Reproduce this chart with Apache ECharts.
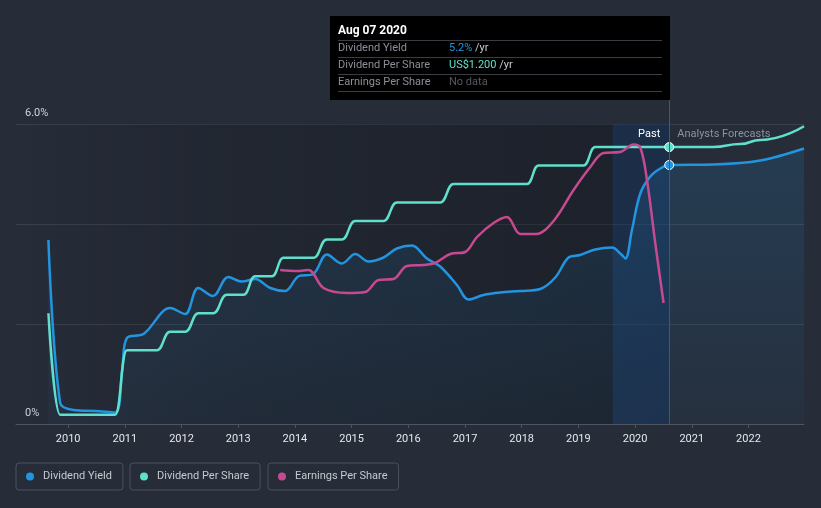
<!DOCTYPE html>
<html><head><meta charset="utf-8">
<script src="https://cdn.jsdelivr.net/npm/echarts@6/dist/echarts.min.js"></script>
<style>html,body{margin:0;padding:0;background:#262c38;}#c{width:821px;height:508px;}</style>
</head><body><div id="c"></div>
<script>
// ---- data (x = decimal year) ----
const yearTicks = [2010,2011,2012,2013,2014,2015,2016,2017,2018,2019,2020,2021,2022];
const xMin = 2009.08, xMax = 2022.98;
const nowT = 2020.603;

const yieldT = [2009.652,2009.859,2010.094,2010.476,2010.829,2010.953,2011.036,2011.329,2011.800,2012.064,2012.294,2012.553,2012.823,2013.065,2013.299,2013.564,2013.828,2014.058,2014.323,2014.564,2014.829,2015.064,2015.298,2015.563,2015.799,2016.064,2016.328,2016.563,2016.858,2017.062,2017.327,2017.622,2017.975,2018.327,2018.592,2018.827,2019.033,2019.298,2019.592,2019.750,2019.830,2019.945,2020.092,2020.268,2020.445,2020.603,2021.380,2022.209,2022.98];
const yieldV = [3.68,0.42,0.28,0.26,0.23,1.08,1.72,1.80,2.32,2.20,2.72,2.56,2.94,2.85,2.90,2.72,2.66,2.95,3.00,3.39,3.21,3.40,3.25,3.33,3.51,3.57,3.31,3.15,2.78,2.49,2.58,2.63,2.66,2.70,2.93,3.33,3.38,3.49,3.53,3.40,3.31,3.88,4.61,4.95,5.11,5.18,5.19,5.27,5.51];

const dpsT = [2009.652,2009.859,2010.829,2011.036,2011.565,2011.800,2012.064,2012.299,2012.558,2012.800,2013.093,2013.299,2013.594,2013.799,2014.328,2014.564,2014.829,2015.064,2015.563,2015.799,2016.563,2016.798,2018.093,2018.298,2019.091,2019.298,2020.603,2021.380,2021.856,2022.209,2022.98];
const dpsV = [0.48,0.04,0.04,0.32,0.32,0.40,0.40,0.48,0.48,0.56,0.56,0.64,0.64,0.72,0.72,0.80,0.80,0.88,0.88,0.96,0.96,1.04,1.04,1.12,1.12,1.20,1.20,1.20,1.213,1.231,1.29];

const epsT = [2013.740,2014.035,2014.240,2014.504,2014.917,2015.240,2015.475,2015.739,2015.976,2016.269,2016.475,2016.740,2017.004,2017.211,2017.504,2017.740,2017.975,2018.257,2018.562,2018.915,2019.210,2019.444,2019.739,2019.973,2020.092,2020.210,2020.356,2020.503];
const epsV = [1.54,1.53,1.54,1.36,1.31,1.32,1.44,1.45,1.58,1.59,1.61,1.70,1.72,1.87,2.01,2.07,1.90,1.90,2.03,2.34,2.57,2.71,2.72,2.795,2.765,2.44,1.81,1.21];

const seriesNames = ['Dividend Yield','Dividend Per Share','Earnings Per Share'];
const colors = ['#2394e0','#5fe0cc','#c74a90'];

// ---- chart ----
const FONT = 'Roboto, "Open Sans", sans-serif';
const chart = echarts.init(document.getElementById('c'), null, {renderer:'canvas'});
function pairs(t, v){ return t.map((x,i)=>[x, v[i]]); }
function withDot(arr, color){
  return arr.map(p => p[0] === nowT ? {value:p, symbol:'circle', symbolSize:9,
    itemStyle:{color:color, borderColor:'#ffffff', borderWidth:1}} : p);
}
const legendBase = {orient:'horizontal', icon:'circle', itemWidth:8, itemHeight:8,
  padding:[8,11,8,10], borderColor:'#4a5160', borderWidth:1, borderRadius:3,
  selectedMode:false, textStyle:{color:'#c5c9d0', fontSize:11, fontFamily:FONT, padding:[0,0,0,4]}};

const option = {
  backgroundColor:'#262c38',
  animation:false,
  textStyle:{fontFamily:FONT},
  grid:{left:16, right:17, top:124, bottom:84, containLabel:false},
  legend:[
    Object.assign({}, legendBase, {data:[seriesNames[0]], left:16, top:463}),
    Object.assign({}, legendBase, {data:[seriesNames[1]], left:130, top:463}),
    Object.assign({}, legendBase, {data:[seriesNames[2]], left:268, top:463})
  ],
  xAxis:{type:'value', min:xMin, max:xMax, splitLine:{show:false},
    axisLine:{lineStyle:{color:'#4d5360', width:1}},
    axisTick:{customValues:yearTicks, length:4, lineStyle:{color:'#4d5360'}},
    axisLabel:{customValues:yearTicks, formatter:v=>String(Math.round(v)), color:'#e6e8eb', fontSize:11, margin:10, fontFamily:FONT}
  },
  yAxis:[
    {type:'value', min:0, max:6, interval:2,
      axisLine:{show:false}, axisTick:{show:false},
      splitLine:{lineStyle:{color:'#3a404c', width:1}},
      axisLabel:{inside:true, margin:9, verticalAlign:'bottom', padding:[0,0,5,0], color:'#d0d3d8', fontSize:11, fontFamily:FONT,
        formatter:v => v===6 ? '6.0%' : (v===0 ? '0%' : '')}},
    {type:'value', min:0, max:1.3, show:false, splitLine:{show:false}},
    {type:'value', min:0, max:3, show:false, splitLine:{show:false}}
  ],
  series:[
    {name:'regions', type:'line', data:[], z:1, silent:true,
      markArea:{silent:true, data:[
        [{xAxis:xMin, itemStyle:{color:new echarts.graphic.LinearGradient(0,0,1,0,[
            {offset:0,color:'rgba(8,10,14,0)'},{offset:0.3,color:'rgba(8,10,14,0.15)'},{offset:1,color:'rgba(8,10,14,0.34)'}])}}, {xAxis:nowT}],
        [{xAxis:nowT-1, itemStyle:{color:'rgba(30,110,220,0.17)'},
          label:{show:true, position:'insideTopRight', formatter:'Past', color:'#ffffff', fontSize:11, fontFamily:FONT, distance:5, padding:[0,4,0,0]}}, {xAxis:nowT}],
        [{xAxis:nowT, itemStyle:{color:'rgba(0,0,0,0)'},
          label:{show:true, position:'insideTopLeft', formatter:'Analysts Forecasts', color:'#8c93a0', fontSize:11, fontFamily:FONT, distance:5, padding:[0,0,0,3]}}, {xAxis:xMax}]
      ]},
      markLine:{silent:true, symbol:'none', label:{show:false},
        lineStyle:{color:'#2b5d94', width:1, type:'solid'}, data:[{xAxis:nowT}]}
    },
    {name:seriesNames[0], type:'line', yAxisIndex:0, z:3, symbol:'none', showAllSymbol:true, smooth:0.35,
      color:colors[0], lineStyle:{width:2.5, color:colors[0]},
      areaStyle:{color:new echarts.graphic.LinearGradient(0,0,0,1,[
        {offset:0,color:'rgba(35,148,224,0.22)'},{offset:1,color:'rgba(35,148,224,0.06)'}])},
      data:withDot(pairs(yieldT, yieldV), colors[0])},
    {name:seriesNames[1], type:'line', yAxisIndex:1, z:4, symbol:'none', showAllSymbol:true, smooth:0.5, smoothMonotone:'x',
      color:colors[1], lineStyle:{width:2.5, color:colors[1]},
      data:withDot(pairs(dpsT, dpsV), colors[1])},
    {name:seriesNames[2], type:'line', yAxisIndex:2, z:5, symbol:'none', smooth:0.35,
      color:colors[2], lineStyle:{width:2.5, color:colors[2]},
      data:pairs(epsT, epsV)}
  ],
  graphic:[
    {type:'rect', left:330, top:16, z:10, shape:{width:340, height:84}, style:{fill:'#000000'}},
    {type:'text', x:338, y:31, z:11, style:{text:'Aug 07 2020', fill:'#ffffff', font:'bold 12px Roboto, sans-serif', verticalAlign:'middle'}},
    {type:'line', z:11, shape:{x1:338,y1:40.5,x2:662,y2:40.5}, style:{stroke:'#3a3d43', lineWidth:1}},
    {type:'line', z:11, shape:{x1:338,y1:57.5,x2:662,y2:57.5}, style:{stroke:'#3a3d43', lineWidth:1}},
    {type:'line', z:11, shape:{x1:338,y1:74.5,x2:662,y2:74.5}, style:{stroke:'#3a3d43', lineWidth:1}},
    {type:'line', z:11, shape:{x1:338,y1:91.5,x2:662,y2:91.5}, style:{stroke:'#3a3d43', lineWidth:1}},
    {type:'text', x:338, y:48.5, z:11, style:{text:'Dividend Yield', fill:'#8b8f96', font:'11px Roboto, sans-serif', verticalAlign:'middle'}},
    {type:'text', x:338, y:65.5, z:11, style:{text:'Dividend Per Share', fill:'#8b8f96', font:'11px Roboto, sans-serif', verticalAlign:'middle'}},
    {type:'text', x:338, y:82.5, z:11, style:{text:'Earnings Per Share', fill:'#8b8f96', font:'11px Roboto, sans-serif', verticalAlign:'middle'}},
    {type:'text', x:449, y:48.5, z:11, style:{text:'{a|5.2%} {b|/yr}', verticalAlign:'middle', font:'11px Roboto, sans-serif',
      rich:{a:{fill:'#2394e0', font:'11px Roboto, sans-serif'}, b:{fill:'#c8cbd0', font:'11px Roboto, sans-serif'}}}},
    {type:'text', x:449, y:65.5, z:11, style:{text:'{a|US$1.200} {b|/yr}', verticalAlign:'middle', font:'11px Roboto, sans-serif',
      rich:{a:{fill:'#5fe0cc', font:'11px Roboto, sans-serif'}, b:{fill:'#c8cbd0', font:'11px Roboto, sans-serif'}}}},
    {type:'text', x:449, y:82.5, z:11, style:{text:'No data', fill:'#55595f', font:'11px Roboto, sans-serif', verticalAlign:'middle'}}
  ]
};
chart.setOption(option);
// connector from tooltip box down to the plot, placed through the x scale
const px = chart.convertToPixel({xAxisIndex:0}, nowT);
const gridTop = chart.convertToPixel({yAxisIndex:0}, 6);
option.graphic.push({type:'line', z:9, shape:{x1:Math.round(px)+0.5, y1:100, x2:Math.round(px)+0.5, y2:gridTop}, style:{stroke:'#2b5d94', lineWidth:1}});
chart.setOption({graphic:option.graphic});
</script>
</body></html>
